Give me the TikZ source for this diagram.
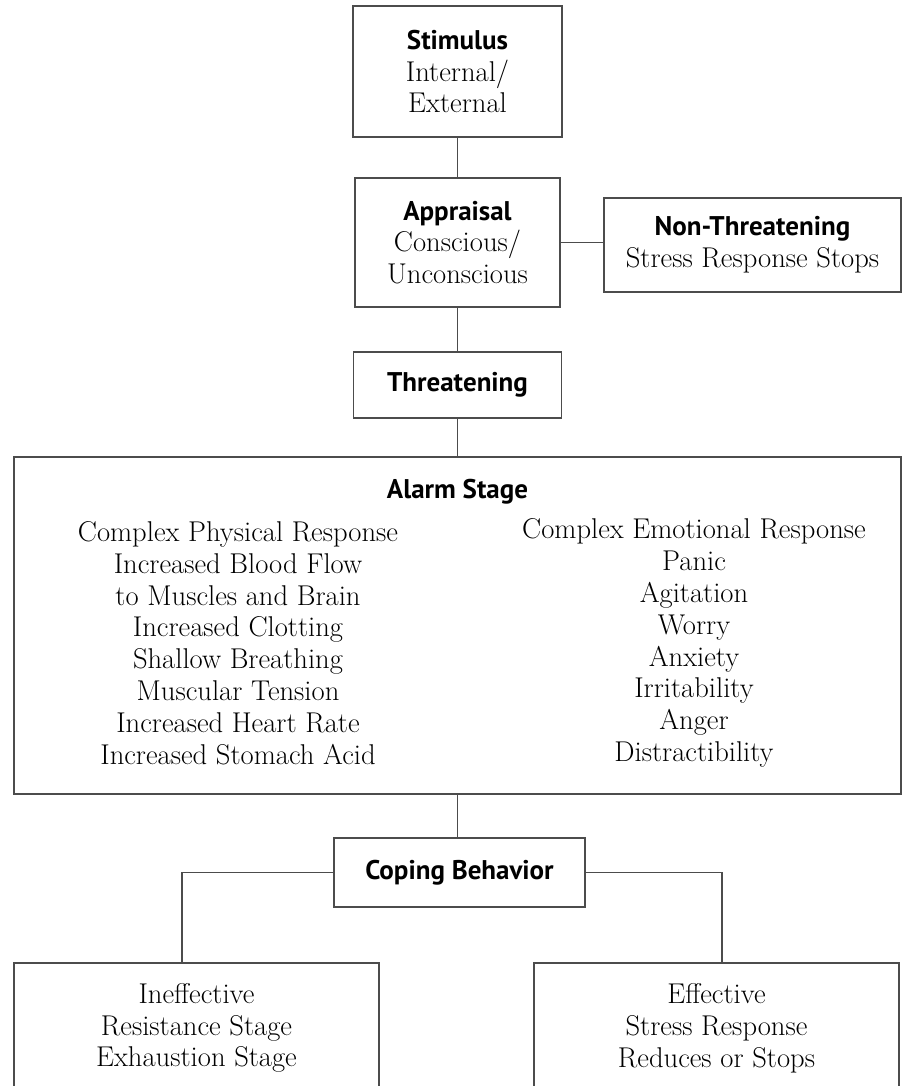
\documentclass[tikz,border=0pt]{standalone}
\usepackage{fontspec}
\newfontfamily\hdfont{PT Sans}
\newcommand\hd[1]{{\hdfont\bfseries\fontsize{27}{31.6}\selectfont #1}}
\begin{document}
\begin{tikzpicture}[x=1pt,y=-1pt,
  box/.style={draw=black!70, line width=1.3pt, align=center, inner sep=0pt,
    font=\fontsize{28.6}{31.8}\selectfont},
  txt/.style={align=center, inner sep=0pt, font=\fontsize{28.6}{31.8}\selectfont},
  conn/.style={draw=black!70, line width=1.3pt}]
\useasboundingbox (0,0) rectangle (903,1086);
\fill[white] (0,0) rectangle (903,1086);
\begin{scope}
\clip (0,0) rectangle (903,1086);
\node[box, minimum width=209pt, minimum height=131pt] (stim) at (457.5,71.5)
  {\hd{Stimulus}\\Internal/\\External};
\node[box, minimum width=205pt, minimum height=129pt] (appr) at (457.5,242.5)
  {\hd{Appraisal}\\Conscious/\\Unconscious};
\node[box, minimum width=297pt, minimum height=94pt] (non) at (752.5,245)
  {\hd{Non-Threatening}\\Stress Response Stops};
\node[box, minimum width=208pt, minimum height=66pt] (threat) at (457.5,385)
  {\hd{Threatening}};
\node[box, minimum width=887pt, minimum height=337pt] (alarm) at (457.5,625.5) {};
\node[txt, anchor=base] (alarmtitle) at (457.5,498) {\hd{Alarm Stage}};
\node[txt] (phys) at (238,643)
  {Complex Physical Response\\Increased Blood Flow\\to Muscles and Brain\\Increased Clotting\\Shallow Breathing\\Muscular Tension\\Increased Heart Rate\\Increased Stomach Acid};
\node[txt] (emo) at (694,643)
  {Complex Emotional Response\\Panic\\Agitation\\Worry\\Anxiety\\Irritability\\Anger\\Distractibility};
\node[box, minimum width=251pt, minimum height=69pt] (coping) at (459.5,872.5)
  {\hd{Coping Behavior}};
\node[box, minimum width=365pt, minimum height=130pt] (inef) at (196.5,1028)
  {Ineffective\\Resistance Stage\\Exhaustion Stage};
\node[box, minimum width=365pt, minimum height=130pt] (eff) at (716.5,1028)
  {Effective\\Stress Response\\Reduces or Stops};
\coordinate (lj) at (182,963);
\coordinate (rj) at (722,963);
\draw[conn] (stim.south) -- (appr.north);
\draw[conn] (appr.east) -- (appr.east -| non.west);
\draw[conn] (appr.south) -- (threat.north);
\draw[conn] (threat.south) -- (threat.south |- alarm.north);
\draw[conn] (alarm.south -| threat.south) -- (coping.north -| threat.south);
\draw[conn] (coping.west) -| (lj);
\draw[conn] (coping.east) -| (rj);
\end{scope}
\end{tikzpicture}
\end{document}
